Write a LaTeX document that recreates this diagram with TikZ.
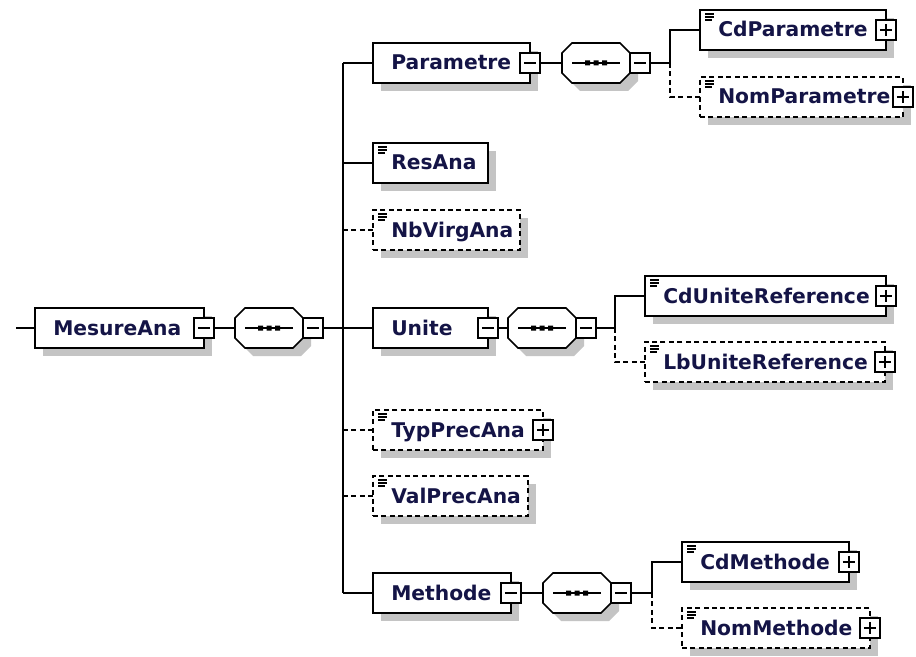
\documentclass[tikz,border=0pt]{standalone}
\usepackage{fontspec}
\newfontfamily\xsdfont{DejaVu Sans}
\usetikzlibrary{calc}
\definecolor{labelc}{RGB}{20,20,70}
\definecolor{shadowc}{RGB}{196,196,196}

\tikzset{
  ebox/.style={draw=black, fill=white, line width=1.5pt, minimum height=30pt,
               inner sep=0pt, outer sep=0pt},
  optional/.style={dash pattern=on 3.75pt off 2.6pt},
  etext/.style={inner sep=0pt, text=labelc,
                font=\xsdfont\bfseries\fontsize{15.2}{18}\selectfont},
  pmbox/.style={draw=black, fill=white, line width=1.3pt, minimum size=14.5pt,
                inner sep=0pt, outer sep=0pt},
  pmline/.style={line width=1.3pt},
  conn/.style={line width=1.2pt},
  iconline/.style={line width=0.9pt},
}

% element box: name, left, right, centre y, extra style, label
\newcommand\elembox[6]{%
  \fill[shadowc] (#2+8,#4-12) rectangle (#3+8,#4+28);
  \node[ebox,#5,minimum width={(#3-#2)*0.75pt},anchor=west] (#1) at (#2,#4) {};
  \node[etext,anchor=base west] (#1-t) at (#2+18,#4+7) {#6};
}
% collapse / expand markers on the right edge of a box
\newcommand\minusmark[1]{%
  \node[pmbox] (#1-m) at (#1.east) {};
  \draw[pmline] ($(#1-m.west)+(3.5,0)$) -- ($(#1-m.east)+(-3.5,0)$);
}
\newcommand\plusmark[1]{%
  \node[pmbox] (#1-p) at (#1.east) {};
  \draw[pmline] ($(#1-p.west)+(3.5,0)$) -- ($(#1-p.east)+(-3.5,0)$)
                ($(#1-p.north)+(0,3.5)$) -- ($(#1-p.south)+(0,-3.5)$);
}
% simple-content icon in the top left corner
\newcommand\simpleicon[1]{%
  \draw[iconline] (#1.north west) ++(5,4) -- ++(9,0) ++(-9,3) -- ++(9,0)
                  ++(-9,3) -- ++(7,0);
}
% sequence compositor: name, centre x, centre y
\newcommand\seqbox[3]{%
  \fill[shadowc] (#2-16,#3-12) -- (#2+32,#3-12) -- (#2+42,#3-2) -- (#2+42,#3+18)
     -- (#2+32,#3+28) -- (#2-16,#3+28) -- (#2-26,#3+18) -- (#2-26,#3-2) -- cycle;
  \draw[line width=1.3pt, fill=white] (#2-24,#3-20) -- (#2+24,#3-20) -- (#2+34,#3-10)
     -- (#2+34,#3+10) -- (#2+24,#3+20) -- (#2-24,#3+20) -- (#2-34,#3+10)
     -- (#2-34,#3-10) -- cycle;
  \node[inner sep=0pt, outer sep=0pt, minimum width=51pt, minimum height=30pt] (#1) at (#2,#3) {};
  \draw[pmline] (#2-24,#3) -- (#2+24,#3);
  \fill (#2-11,#3-2.5) rectangle (#2-6,#3+2.5) (#2-2.5,#3-2.5) rectangle (#2+2.5,#3+2.5)
        (#2+6,#3-2.5) rectangle (#2+11,#3+2.5);
  \node[pmbox] (#1-m) at (#2+44,#3) {};
  \draw[pmline] ($(#1-m.west)+(3.5,0)$) -- ($(#1-m.east)+(-3.5,0)$);
}

\begin{document}
\begin{tikzpicture}[x=0.75pt,y=-0.75pt]
\useasboundingbox (0,0) rectangle (916,656);
\fill[white] (0,0) rectangle (916,656);

% root and its sequence
\elembox{mesure}{35}{204}{328}{}{MesureAna}
\minusmark{mesure}
\seqbox{s1}{269}{328}

% children of MesureAna
\elembox{param}{373}{530}{63}{}{Parametre}
\minusmark{param}
\seqbox{s2}{596}{63}
\elembox{cdparam}{700}{886}{30}{}{CdParametre}
\simpleicon{cdparam}\plusmark{cdparam}
\elembox{nomparam}{700}{903}{97}{optional}{NomParametre}
\simpleicon{nomparam}\plusmark{nomparam}

\elembox{resana}{373}{488}{163}{}{ResAna}
\simpleicon{resana}
\elembox{nbvirg}{373}{520}{230}{optional}{NbVirgAna}
\simpleicon{nbvirg}

\elembox{unite}{373}{488}{328}{}{Unite}
\minusmark{unite}
\seqbox{s3}{542}{328}
\elembox{cdunite}{645}{886}{296}{}{CdUniteReference}
\simpleicon{cdunite}\plusmark{cdunite}
\elembox{lbunite}{645}{885}{362}{optional}{LbUniteReference}
\simpleicon{lbunite}\plusmark{lbunite}

\elembox{typprec}{373}{543}{430}{optional}{TypPrecAna}
\simpleicon{typprec}\plusmark{typprec}
\elembox{valprec}{373}{528}{496}{optional}{ValPrecAna}
\simpleicon{valprec}

\elembox{methode}{373}{511}{593}{}{Methode}
\minusmark{methode}
\seqbox{s4}{577}{593}
\elembox{cdmeth}{682}{849}{562}{}{CdMethode}
\simpleicon{cdmeth}\plusmark{cdmeth}
\elembox{nommeth}{682}{870}{628}{optional}{NomMethode}
\simpleicon{nommeth}\plusmark{nommeth}

% branch points
\coordinate (in0) at (16,328);
\coordinate (trunk) at (343,328);
\coordinate (b2) at (670,63);
\coordinate (b3) at (615,328);
\coordinate (b4) at (652,593);

% connectors
\draw[conn] (in0) -- (mesure.west);
\draw[conn] (mesure-m.east) -- (s1.west);
\draw[conn] (s1-m.east) -- (unite.west);
\draw[conn] (param.west -| trunk) -- (methode.west -| trunk);
\draw[conn] (param.west -| trunk) -- (param.west);
\draw[conn] (resana.west -| trunk) -- (resana.west);
\draw[conn,optional] (nbvirg.west -| trunk) -- (nbvirg.west);
\draw[conn,optional] (typprec.west -| trunk) -- (typprec.west);
\draw[conn,optional] (valprec.west -| trunk) -- (valprec.west);
\draw[conn] (methode.west -| trunk) -- (methode.west);

\draw[conn] (param-m.east) -- (s2.west);
\draw[conn] (s2-m.east) -- (b2) |- (cdparam.west);
\draw[conn,optional] (b2) |- (nomparam.west);

\draw[conn] (unite-m.east) -- (s3.west);
\draw[conn] (s3-m.east) -- (b3) |- (cdunite.west);
\draw[conn,optional] (b3) |- (lbunite.west);

\draw[conn] (methode-m.east) -- (s4.west);
\draw[conn] (s4-m.east) -- (b4) |- (cdmeth.west);
\draw[conn,optional] (b4) |- (nommeth.west);
\end{tikzpicture}
\end{document}
